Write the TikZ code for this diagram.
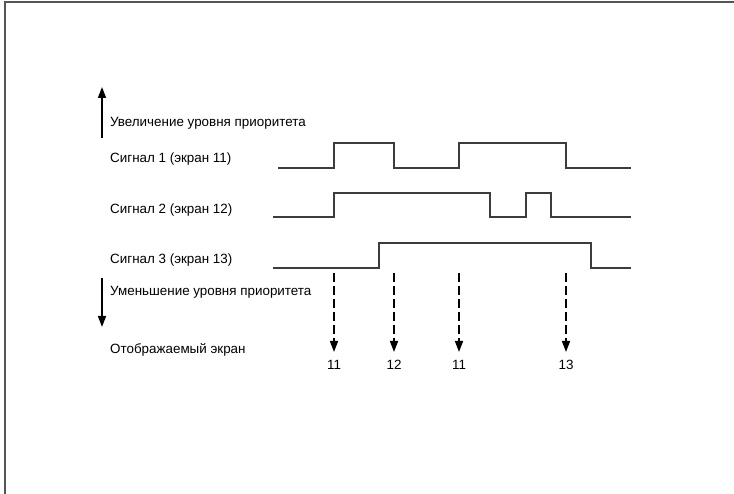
\documentclass[tikz,border=0pt]{standalone}
\usepackage{fontspec}
\setmainfont{Liberation Sans}
\usetikzlibrary{positioning,arrows.meta}
\definecolor{ink}{RGB}{0,0,0}
\definecolor{wave}{RGB}{60,60,60}
\definecolor{framegray}{RGB}{85,85,85}
\tikzset{
  lbl/.style={anchor=west, inner sep=0pt, font=\fontsize{13.4}{16}\selectfont, text=ink},
  num/.style={anchor=north, inner sep=0pt, font=\fontsize{13.4}{16}\selectfont, text=ink},
  sig/.style={draw=wave, line width=1.3pt},
  prio/.style={-{Triangle[length=11pt, width=8pt]}, line width=1.6pt, draw=ink},
  pick/.style={-{Triangle[length=11pt, width=8pt]}, line width=1.6pt, draw=ink,
    dash pattern=on 9pt off 4pt},
  frm/.style={draw=framegray, line width=2pt},
}

\begin{document}
\begin{tikzpicture}[x=1pt, y=-1pt]
  \useasboundingbox (0,0) rectangle (734,494);
  \draw[frm] (5,494) -- (5,2) -- (734,2);
  % priority direction
  \coordinate (upbot) at (102,138);
  \coordinate (uptop) at (102,87);
  \coordinate (dntop) at (102,278);
  \coordinate (dnbot) at (102,327);
  \draw[prio] (upbot) -- (uptop);
  \draw[prio] (dntop) -- (dnbot);
  \node[lbl] (up) at (110,123) {Увеличение уровня приоритета};
  \node[lbl] (s1) at (110,159) {Сигнал 1 (экран 11)};
  \node[lbl] (s2) at (110,210) {Сигнал 2 (экран 12)};
  \node[lbl] (s3) at (110,260) {Сигнал 3 (экран 13)};
  \node[lbl] (dn) at (110,292) {Уменьшение уровня приоритета};
  \node[lbl] (disp) at (110,350) {Отображаемый экран};
  % waveforms
  \draw[sig] (278,168) -| (334,143) -| (394,168) -| (459,143) -| (566,168) -- (631,168);
  \draw[sig] (273,217) -| (334,193) -| (490,217) -| (526,193) -| (551,217) -- (631,217);
  \draw[sig] (273,268) -| (379,243) -| (591,268) -- (631,268);
  % displayed screen
  \foreach \x/\s [count=\i] in {334/11, 394/12, 459/11, 566/13} {
    \coordinate (t\i) at (\x,273);
    \node[num] (n\i) at (\x,360) {\s};
    \draw[pick] (t\i) -- ([yshift=8pt]n\i.north);
  }
\end{tikzpicture}
\end{document}
